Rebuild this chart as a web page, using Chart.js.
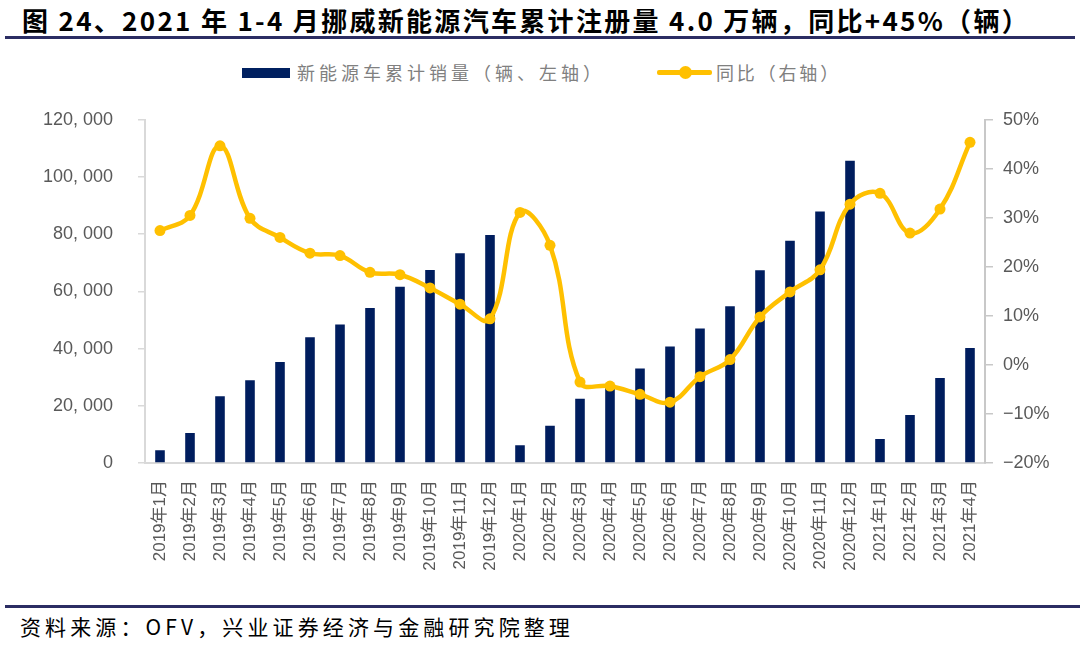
<!DOCTYPE html>
<html>
<head>
<meta charset="utf-8">
<script src="https://cdn.jsdelivr.net/npm/chart.js@4"></script>
<style>
  html, body { margin:0; padding:0; background:#fff; }
  body { width:1080px; height:645px; position:relative; overflow:hidden; font-family:"Noto Sans CJK SC","Noto Sans",sans-serif; }
  #title { position:absolute; left:22px; top:1px; font-size:26px; font-weight:bold; color:#000; white-space:nowrap; }
  #topRule { position:absolute; left:5px; top:36px; width:1070px; height:3px; background:#2b2d63; }
  #bottomRule { position:absolute; left:5px; top:605px; width:1075px; height:3px; background:#2b2d63; }
  #source { position:absolute; left:20px; top:611px; font-size:21px; color:#000; white-space:nowrap; }
  #legend { position:absolute; left:0; top:60px; width:1080px; height:24px; }
  .lg { position:absolute; font-size:18px; color:#808080; white-space:nowrap; top:0; line-height:24px; }
  #lgBar { position:absolute; left:242px; top:8px; width:48px; height:10px; background:#002060; }
  #lgLine { position:absolute; left:657px; top:10px; width:55px; height:5px; background:#FFC000; border-radius:2px; }
  #lgDot { position:absolute; left:679px; top:6px; width:13px; height:13px; border-radius:50%; background:#FFC000; }
  #wrap { position:absolute; left:0; top:84px; width:1080px; height:516px; }
</style>
</head>
<body>
<div id="title">图 24、2021 年 1-4 月挪威新能源汽车累计注册量 4.0 万辆，同比+45%（辆）</div>
<div id="topRule"></div>
<div id="legend">
  <div id="lgBar"></div>
  <div class="lg" id="lgText1" style="left:297px;">新能源车累计销量（辆、左轴）</div>
  <div id="lgLine"></div><div id="lgDot"></div>
  <div class="lg" id="lgText2" style="left:716px;">同比（右轴）</div>
</div>
<div id="wrap"><canvas id="c" width="1080" height="516"></canvas></div>
<div id="bottomRule"></div>
<div id="source">资料来源：OFV，兴业证券经济与金融研究院整理</div>
<script>
const categories = [
  "2019年1月","2019年2月","2019年3月","2019年4月","2019年5月","2019年6月",
  "2019年7月","2019年8月","2019年9月","2019年10月","2019年11月","2019年12月",
  "2020年1月","2020年2月","2020年3月","2020年4月","2020年5月","2020年6月",
  "2020年7月","2020年8月","2020年9月","2020年10月","2020年11月","2020年12月",
  "2021年1月","2021年2月","2021年3月","2021年4月"
];
const salesCumulative = [
  4500, 10500, 23300, 28900, 35300, 44000, 48400, 54200, 61600, 67500, 73300, 79700,
  6200, 13000, 22500, 26500, 33000, 40700, 47000, 54800, 67400, 77700, 87900, 105700,
  8400, 16800, 29700, 40200
];
const yoyPct = [
  27.4, 30.5, 44.7, 29.9, 26.0, 22.8, 22.3, 18.9, 18.4, 15.7, 12.4, 9.4,
  31.1, 24.4, -3.5, -4.3, -6.0, -7.6, -2.4, 1.1, 9.8, 14.9, 19.4, 32.8,
  35.0, 26.9, 31.8, 45.4
];
const leftTickValues = [0, 20000, 40000, 60000, 80000, 100000, 120000];
const rightTickValues = [-20, -10, 0, 10, 20, 30, 40, 50];
const seriesNames = ["新能源车累计销量（辆、左轴）", "同比（右轴）"];

function fitWidth(id, target) {
  const el = document.getElementById(id);
  const w = el.getBoundingClientRect().width;
  const n = el.textContent.length;
  el.style.letterSpacing = ((target - w) / n) + 'px';
}
fitWidth('title', 1008);
fitWidth('lgText1', 308);
fitWidth('lgText2', 125);
fitWidth('source', 554);

const tickColor = '#595959';
const axisColor = '#d9d9d9';
const tickFont = { family: '"Liberation Sans", Arial, sans-serif', size: 18 };

new Chart(document.getElementById('c'), {
  data: {
    labels: categories,
    datasets: [
      {
        type: 'line', label: seriesNames[1], data: yoyPct, yAxisID: 'y2', order: 0,
        borderColor: '#FFC000', backgroundColor: '#FFC000', borderWidth: 4.5,
        pointRadius: 5.5, pointHoverRadius: 5.5, pointBackgroundColor: '#FFC000',
        pointBorderWidth: 0, tension: 0.4, fill: false
      },
      {
        type: 'bar', label: seriesNames[0], data: salesCumulative, yAxisID: 'y', order: 1,
        backgroundColor: '#001D5E', barPercentage: 0.32, categoryPercentage: 1.0
      }
    ]
  },
  options: {
    responsive: false, animation: false, maintainAspectRatio: false,
    layout: { padding: { top: 13, bottom: 0, left: 0, right: 0 } },
    plugins: { legend: { display: false }, tooltip: { enabled: false } },
    scales: {
      x: {
        grid: { display: false, drawTicks: false },
        border: { color: axisColor, width: 2 },
        ticks: {
          color: tickColor, font: { family: '"Liberation Sans", Arial, "Noto Sans CJK SC", sans-serif', size: 17 },
          minRotation: 90, maxRotation: 90, autoSkip: false, padding: 17
        },
        afterFit: s => { s.height = 137; }
      },
      y: {
        position: 'left', min: 0, max: 120000,
        afterBuildTicks: s => { s.ticks = leftTickValues.map(v => ({ value: v })); },
        grid: { drawOnChartArea: false, drawTicks: true, tickLength: 7, color: axisColor, lineWidth: 1.5 },
        border: { color: axisColor, width: 2 },
        ticks: {
          color: tickColor, font: tickFont, padding: 25,
          callback: v => v === 0 ? '0' : String(Math.floor(v / 1000)) + ', ' + String(v % 1000).padStart(3, '0')
        },
        afterFit: s => { s.width = 145; }
      },
      y2: {
        position: 'right', min: -20, max: 50,
        afterBuildTicks: s => { s.ticks = rightTickValues.map(v => ({ value: v })); },
        grid: { drawOnChartArea: false, drawTicks: true, tickLength: 8, color: '#c8c8c8', lineWidth: 1.5 },
        border: { color: '#c8c8c8', width: 2 },
        ticks: {
          color: tickColor, font: tickFont, padding: 10,
          callback: v => (v < 0 ? '−' + Math.abs(v) : v) + '%'
        },
        afterFit: s => { s.width = 95; }
      }
    }
  }
});
</script>
</body>
</html>
